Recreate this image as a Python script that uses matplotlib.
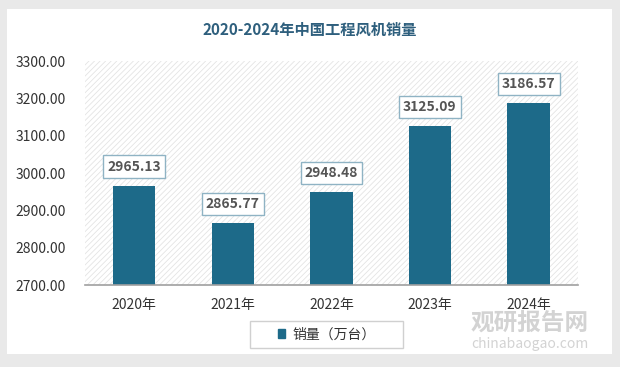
import matplotlib.pyplot as plt
from matplotlib.patches import Rectangle, Patch

plt.rcParams['font.family'] = ['Noto Sans CJK SC', 'DejaVu Sans']
plt.rcParams['hatch.linewidth'] = 0.6
plt.rcParams['hatch.color'] = '#e4e4e4'

years = ['2020年', '2021年', '2022年', '2023年', '2024年']
sales = [2965.13, 2865.77, 2948.48, 3125.09, 3186.57]
yticks = [2700, 2800, 2900, 3000, 3100, 3200, 3300]
bar_color = '#1d6a89'

fig = plt.figure(figsize=(6.2, 3.67), dpi=100)
fig.patch.set_facecolor('#e9e9e9')
# white card behind everything
fig.patches.append(Rectangle((0.012, 0.035), 0.975, 0.94, transform=fig.transFigure,
                             facecolor='white', edgecolor='none', zorder=-5))

ax = fig.add_axes([0.137, 0.2234, 0.795, 0.61])
ax.set_facecolor('white')
ax.add_patch(Rectangle((0, 0), 1, 1, transform=ax.transAxes, facecolor='white',
                       hatch='//////', edgecolor='#e4e4e4', linewidth=0, zorder=0))

x = range(len(years))
ax.bar(x, sales, width=0.43, color=bar_color, zorder=2)
ax.set_ylim(2700, 3300)
ax.set_xlim(-0.5, len(years) - 0.5)
ax.set_yticks(yticks)
ax.set_yticklabels(['%.2f' % v for v in yticks])
ax.set_xticks(list(x))
ax.set_xticklabels(years)
ax.tick_params(axis='both', length=0, labelsize=10, colors='#333333')
ax.tick_params(axis='y', pad=14)
ax.tick_params(axis='x', pad=9)
for s in ['top', 'right', 'left']:
    ax.spines[s].set_visible(False)
ax.spines['bottom'].set_color('#a0a0a0')
ax.spines['bottom'].set_linewidth(1.2)

for i, v in enumerate(sales):
    ax.annotate('%.2f' % v, (i, v), xytext=(0, 14), textcoords='offset points',
                ha='center', va='center', fontsize=10, fontweight='bold', color='#555555',
                bbox=dict(boxstyle='square,pad=0.3', facecolor='white',
                          edgecolor='#8fb3c4', linewidth=1), zorder=3)

fig.text(0.5, 0.918, '2020-2024年中国工程风机销量', ha='center', va='center',
         fontsize=11, fontweight='bold', color='#2e5f7d')

# legend box drawn by hand (wide padding like the original)
fig.patches.append(Rectangle((250 / 620, 1 - 348 / 367), 153 / 620, 27 / 367,
                             transform=fig.transFigure, facecolor='white',
                             edgecolor='#d0d0d0', linewidth=1, zorder=2))
leg = fig.legend(handles=[Patch(color=bar_color)], labels=['销量（万台）'],
                 loc='center', bbox_to_anchor=(326.5 / 620, 1 - 334.5 / 367),
                 handlelength=0.55, handleheight=0.55, fontsize=10, frameon=False,
                 handletextpad=0.5)
for t in leg.get_texts():
    t.set_color('#333333')

# watermark
fig.text(0.855, 0.12, '观研报告网', ha='center', va='center', fontsize=17,
         fontweight='bold', color='#c8c8c8', alpha=0.8, zorder=1)
fig.text(0.855, 0.062, 'chinabaogao.com', ha='center', va='center', fontsize=10,
         color='#c8c8c8', alpha=0.8, zorder=1)

fig.savefig('out.png', dpi=100, facecolor=fig.get_facecolor())
